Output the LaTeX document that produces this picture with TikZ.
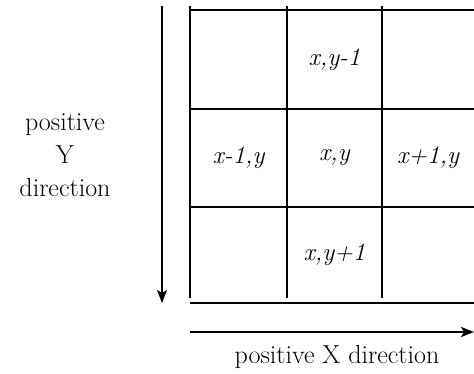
\documentclass[tikz,border=0pt]{standalone}
\usepackage{tikz}
\usetikzlibrary{arrows.meta,positioning}
\tikzset{
  gridln/.style={line width=2pt,black},
  axis/.style={-{Stealth[length=13pt,width=10pt,inset=3pt]},line width=2pt,black},
  cell/.style={font=\fontsize{25}{28}\selectfont\itshape,inner sep=0pt},
  dirlabel/.style={font=\fontsize{26}{33}\selectfont,align=center,inner sep=0pt}
}
\begin{document}
\begin{tikzpicture}[x=1pt,y=-1pt]
\useasboundingbox (0,0) rectangle (474,374);
% grid corners
\coordinate (t0) at (190,10);
\coordinate (t3) at (474,10);
\coordinate (m0) at (190,109);
\coordinate (m3) at (474,109);
\coordinate (n0) at (190,207);
\coordinate (n3) at (474,207);
\coordinate (b0) at (190,303);
\coordinate (b3) at (474,303);
\foreach \xx/\l in {190/1,287/2,382/3}{
  \coordinate (vt\l) at (\xx,6);
  \coordinate (vb\l) at (\xx,298);
  \draw[gridln] (vt\l)--(vb\l);
}
\draw[gridln] (t0)--(t3);
\draw[gridln] (m0)--(m3);
\draw[gridln] (n0)--(n3);
\draw[gridln] (b0)--(b3);
% cell labels
\node[cell] (up) at (334.5,59.5) {x,y-1};
\node[cell] (left) at (238.5,158) {x-1,y};
\node[cell] (mid) at (334.5,158) {x,y};
\node[cell] (right) at (428,158) {x+1,y};
\node[cell] (down) at (334.5,255) {x,y+1};
% direction arrows
\coordinate (ys) at (162,6);
\coordinate (ye) at (162,303);
\draw[axis] (ys)--(ye);
\coordinate (xs) at (190,332);
\coordinate (xe) at (474,332);
\draw[axis] (xs)--(xe);
\node[dirlabel] (ylab) at (65,155) {positive\\Y\\direction};
\node[dirlabel] (xlab) at (337,357) {positive X direction};
\end{tikzpicture}
\end{document}
